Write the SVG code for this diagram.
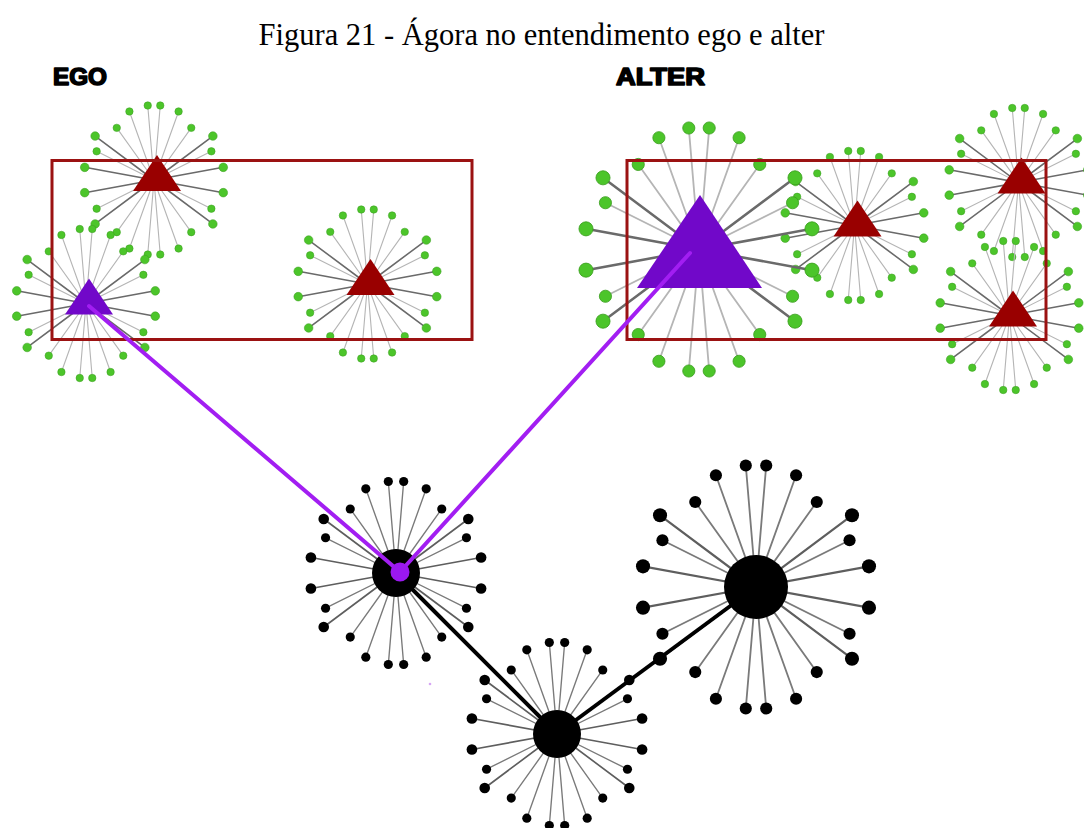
<svg xmlns="http://www.w3.org/2000/svg" xmlns:xlink="http://www.w3.org/1999/xlink" width="1084" height="828" viewBox="0 0 1084 828">
  <style>
    .title{font-family:"Liberation Serif","Times New Roman",serif;font-size:30.5px;fill:#000}
    .lab{font-family:"Liberation Sans",Arial,sans-serif;font-weight:bold;font-size:23.5px;fill:#000;stroke:#000;stroke-width:1.6;stroke-linejoin:round}
    .box{fill:none;stroke:#9b1212;stroke-width:3}
    .leaf-g{fill:#4cc52a;stroke:#3c9f20;stroke-width:.7}
    .leaf-k{fill:#000}
    .red{fill:#990000}
    .vio{fill:#7108c9}
    .hub{fill:#000}
    .link-v{stroke:#a21ef2;stroke-width:4;stroke-linecap:round;fill:none}
    .link-k{stroke:#000;stroke-width:4;fill:none}
  </style>
  <defs>
    <!-- star of 24 spokes on a unit radius of 100 -->
    <g id="spokes-g" fill="none">
      <path stroke="#b5b5b5" stroke-width="1.5" d="M0 0L8.4-100M0 0L-8.4-100M0 0L8.4 100M0 0L-8.4 100M0 0L33-92M0 0L-33-92M0 0L33 92M0 0L-33 92M0 0L50-70M0 0L-50-70M0 0L50 70M0 0L-50 70M0 0L77-38.5M0 0L-77-38.5M0 0L77 38.5M0 0L-77 38.5"/>
      <path stroke="#6a6a6a" stroke-width="2.1" d="M0 0L79-59M0 0L-79-59M0 0L79 59M0 0L-79 59M0 0L93-17M0 0L-93-17M0 0L93 17M0 0L-93 17"/>
    </g>
    <g id="spokes-k" fill="none">
      <path stroke="#7a7a7a" stroke-width="1.5" d="M0 0L8.4-100M0 0L-8.4-100M0 0L8.4 100M0 0L-8.4 100M0 0L33-92M0 0L-33-92M0 0L33 92M0 0L-33 92M0 0L50-70M0 0L-50-70M0 0L50 70M0 0L-50 70M0 0L77-38.5M0 0L-77-38.5M0 0L77 38.5M0 0L-77 38.5"/>
      <path stroke="#5e5e5e" stroke-width="1.8" d="M0 0L79-59M0 0L-79-59M0 0L79 59M0 0L-79 59M0 0L93-17M0 0L-93-17M0 0L93 17M0 0L-93 17"/>
    </g>
    <g id="leaves">
      <circle cx="8.4" cy="-100" r="5"/><circle cx="-8.4" cy="-100" r="5"/>
      <circle cx="8.4" cy="100" r="5"/><circle cx="-8.4" cy="100" r="5"/>
      <circle cx="33" cy="-92" r="5"/><circle cx="-33" cy="-92" r="5"/>
      <circle cx="33" cy="92" r="5"/><circle cx="-33" cy="92" r="5"/>
      <circle cx="50" cy="-70" r="5"/><circle cx="-50" cy="-70" r="5"/>
      <circle cx="50" cy="70" r="5"/><circle cx="-50" cy="70" r="5"/>
      <circle cx="77" cy="-38.5" r="5"/><circle cx="-77" cy="-38.5" r="5"/>
      <circle cx="77" cy="38.5" r="5"/><circle cx="-77" cy="38.5" r="5"/>
      <circle cx="79" cy="-59" r="5.8"/><circle cx="-79" cy="-59" r="5.8"/>
      <circle cx="79" cy="59" r="5.8"/><circle cx="-79" cy="59" r="5.8"/>
      <circle cx="93" cy="-17" r="5.8"/><circle cx="-93" cy="-17" r="5.8"/>
      <circle cx="93" cy="17" r="5.8"/><circle cx="-93" cy="17" r="5.8"/>
    </g>
    <path id="tri" d="M0-25L24 11L-24 11Z"/>
  </defs>

  <rect width="1084" height="828" fill="#fff"/>

  <text class="title" x="541.5" y="45" text-anchor="middle">Figura 21 - Ágora no entendimento ego e alter</text>
  <text class="lab" x="53" y="84.5" textLength="54" lengthAdjust="spacingAndGlyphs">EGO</text>
  <text class="lab" x="616" y="84.5" textLength="89" lengthAdjust="spacingAndGlyphs">ALTER</text>

  <!-- ego side -->
  <g id="ego-star-top" transform="translate(154 180)">
    <use href="#spokes-g" transform="scale(.745)"/>
    <use href="#leaves" class="leaf-g" transform="scale(.745)"/>
    <use href="#tri" x="3" class="red"/>
  </g>
  <g id="ego-star-self" transform="translate(86 303.5)">
    <use href="#spokes-g" transform="scale(.745)"/>
    <use href="#leaves" class="leaf-g" transform="scale(.745)"/>
    <use href="#tri" x="3" class="vio"/>
  </g>
  <g id="ego-star-right" transform="translate(367.5 284)">
    <use href="#spokes-g" transform="scale(.745)"/>
    <use href="#leaves" class="leaf-g" transform="scale(.745)"/>
    <use href="#tri" x="3" class="red"/>
  </g>

  <!-- alter side -->
  <g id="alter-star-mid" transform="translate(854.5 225.5)">
    <use href="#spokes-g" transform="scale(.745)"/>
    <use href="#leaves" class="leaf-g" transform="scale(.745)"/>
    <use href="#tri" x="3" class="red"/>
  </g>
  <g id="alter-star-main" transform="translate(699 249.5)">
    <use href="#spokes-g" transform="scale(1.215)"/>
    <use href="#leaves" class="leaf-g" transform="scale(1.215)"/>
    <path class="vio" d="M1-54.5L63 38.5L-62 38.5Z"/>
  </g>
  <g id="alter-star-upper" transform="translate(1018.5 182.5)">
    <use href="#spokes-g" transform="scale(.745)"/>
    <use href="#leaves" class="leaf-g" transform="scale(.745)"/>
    <use href="#tri" x="3" class="red"/>
  </g>
  <g id="alter-star-lower" transform="translate(1009.5 315.5)">
    <use href="#spokes-g" transform="scale(.745)"/>
    <use href="#leaves" class="leaf-g" transform="scale(.745)"/>
    <use href="#tri" x="3.5" class="red"/>
  </g>

  <!-- frames -->
  <g id="frames">
    <rect class="box" x="52" y="160.5" width="420" height="179"/>
    <rect class="box" x="627" y="160.5" width="419" height="179"/>
  </g>

  <!-- black stars -->
  <g id="agora-left" transform="translate(396 573)">
    <use href="#spokes-k" transform="scale(.915)"/>
    <use href="#leaves" class="leaf-k" transform="scale(.915)"/>
    <circle class="hub" r="24"/>
  </g>
  <g id="agora-bottom" transform="translate(557 734)">
    <use href="#spokes-k" transform="scale(.915)"/>
    <use href="#leaves" class="leaf-k" transform="scale(.915)"/>
    <circle class="hub" r="24"/>
  </g>
  <g id="agora-right" transform="translate(756 587)">
    <use href="#spokes-k" transform="scale(1.215)"/>
    <use href="#leaves" class="leaf-k" transform="scale(1.215)"/>
    <circle class="hub" r="32"/>
  </g>

  <!-- links -->
  <g id="connectors">
    <line class="link-k" x1="396" y1="573" x2="557" y2="734"/>
    <line class="link-k" x1="557" y1="734" x2="756" y2="587"/>
    <line class="link-v" x1="89" y1="306" x2="400" y2="572"/>
    <line class="link-v" x1="690" y1="253" x2="400" y2="572"/>
  </g>

  <g id="agora-left-mark">
    <circle cx="400" cy="572" r="9.5" fill="#9b18f0"/>
  </g>
  <circle cx="430" cy="684" r="1.3" fill="#d6a6f4"/>
</svg>
